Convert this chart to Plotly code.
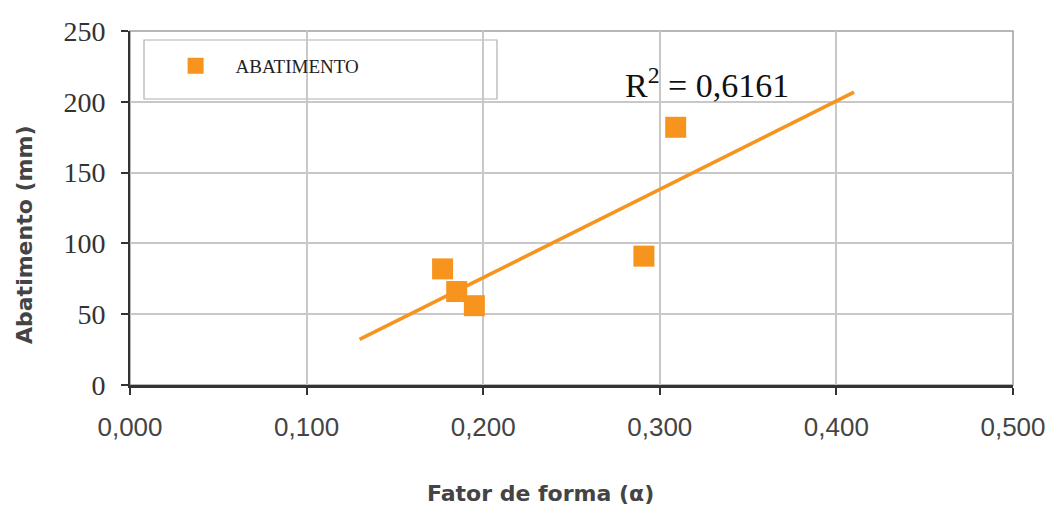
import numpy as np
import plotly.graph_objects as go

# Data
fator_forma = [0.177, 0.185, 0.195, 0.291, 0.309]
abatimento = [82, 66, 56, 91, 182]
trend_x_range = [0.130, 0.410]
r2_text = "R<sup>2</sup> = 0,6161"
series_name = "ABATIMENTO"
x_title = "Fator de forma (α)"
y_title = "Abatimento (mm)"
x_ticks = [0.0, 0.1, 0.2, 0.3, 0.4, 0.5]
x_tick_labels = ["0,000", "0,100", "0,200", "0,300", "0,400", "0,500"]
y_ticks = [0, 50, 100, 150, 200, 250]

ORANGE = "#F7941D"

slope, intercept = np.polyfit(fator_forma, abatimento, 1)
tx = np.array(trend_x_range)
ty = slope * tx + intercept

fig = go.Figure()
fig.add_trace(go.Scatter(
    x=list(tx), y=list(ty), mode="lines",
    line=dict(color=ORANGE, width=3.6), showlegend=False, hoverinfo="skip"))
fig.add_trace(go.Scatter(
    x=fator_forma, y=abatimento, mode="markers", name=series_name,
    marker=dict(symbol="square", size=21, color=ORANGE)))

fig.add_annotation(x=0.327, y=213, xref="x", yref="y", text=r2_text,
                   showarrow=False, font=dict(family="Liberation Serif", size=34, color="#111"))

# Axis titles (offset from centre as in the original)
fig.add_annotation(x=(540-130)/883, y=(385-493)/354, xref="paper", yref="paper",
                   text="<b>" + x_title + "</b>", showarrow=False,
                   xanchor="center", yanchor="middle",
                   font=dict(family="DejaVu Sans", size=22, color="#444"))
fig.add_annotation(x=(24-130)/883, y=(385-235)/354, xref="paper", yref="paper",
                   text="<b>" + y_title + "</b>", showarrow=False, textangle=-90,
                   xanchor="center", yanchor="middle",
                   font=dict(family="DejaVu Sans", size=22, color="#444"))

# Legend box
fig.add_shape(type="rect", xref="paper", yref="paper",
              x0=(144-130)/883, x1=(497-130)/883, y0=(385-99)/354, y1=(385-40)/354,
              line=dict(color="#b0b0b0", width=1.2), fillcolor="white", layer="below")
# Plot border (top/right gray)
fig.add_shape(type="rect", xref="paper", yref="paper", x0=0, x1=1, y0=0, y1=1,
              line=dict(color="#a0a0a0", width=1.5), layer="below")

fig.update_layout(
    width=1053, height=506,
    margin=dict(l=130, r=40, t=31, b=121),
    paper_bgcolor="white", plot_bgcolor="white",
    showlegend=True,
    legend=dict(x=0.029, y=0.955, xanchor="left", yanchor="top",
                bgcolor="rgba(0,0,0,0)", borderwidth=0, itemwidth=70,
                font=dict(family="Liberation Serif", size=19, color="#222")),
    xaxis=dict(range=[0, 0.5], tickvals=x_ticks, ticktext=x_tick_labels,
               automargin=False,
               showgrid=True, gridcolor="#c8c8c8", gridwidth=1.5,
               showline=True, linecolor="#333", linewidth=2.5,
               ticks="outside", ticklen=7, tickcolor="#333", tickwidth=1.5,
               ticklabelstandoff=10,
               tickfont=dict(family="Liberation Sans", size=26, color="#444"),
               zeroline=False),
    yaxis=dict(range=[0, 250], tickvals=y_ticks,
               automargin=False,
               showgrid=True, gridcolor="#c8c8c8", gridwidth=1.5,
               showline=True, linecolor="#333", linewidth=2,
               ticks="outside", ticklen=7, tickcolor="#333", tickwidth=1.5,
               ticklabelstandoff=10,
               tickfont=dict(family="Liberation Serif", size=28, color="#333"),
               zeroline=False),
)

fig.write_html("out.html", config={"displayModeBar": False},
               post_script="document.body.style.margin='0';")
